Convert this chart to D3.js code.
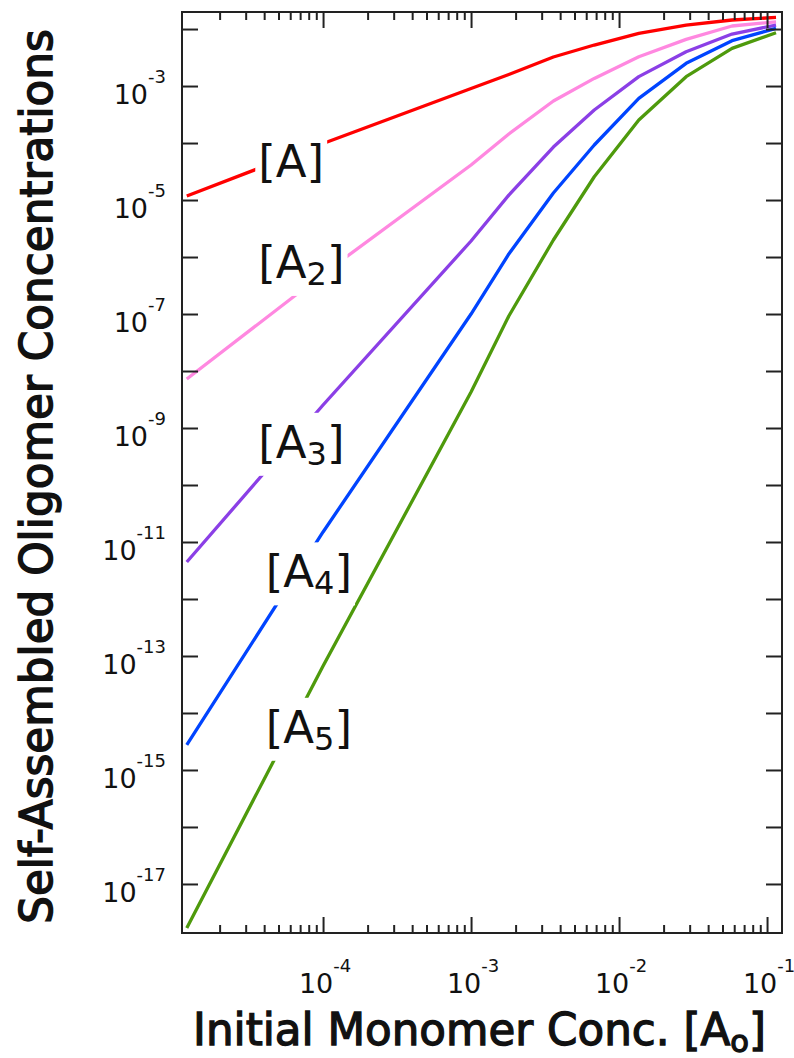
<!DOCTYPE html>
<html><head><meta charset="utf-8">
<script src="https://cdn.jsdelivr.net/npm/d3@7/dist/d3.min.js"></script>
<style>body{margin:0;background:#fff}svg{display:block}</style>
</head><body>
<svg id="c" width="794" height="1058"></svg>
<script>
// ---- data ----
const conc = [1.2e-5, 1e-4, 1e-3, 1.8e-3, 3.6e-3, 6.8e-3, 1.36e-2, 2.84e-2, 5.8e-2, 0.115];
const A1 = [1.175e-5, 9.8e-5, 9.04e-4, 1.59e-3, 3.23e-3, 5.24e-3, 8.41e-3, 1.175e-2, 1.44e-2, 1.60e-2];
const A2 = [7.24e-9, 5.03e-7, 4.11e-5, 1.44e-4, 5.46e-4, 1.36e-3, 3.27e-3, 6.59e-3, 1.13e-2, 1.34e-2];
const A3 = [4.46e-12, 2.53e-9, 1.91e-6, 1.22e-5, 8.51e-5, 3.79e-4, 1.46e-3, 4.0e-3, 8.16e-3, 1.175e-2];
const A4 = [2.75e-15, 1.50e-11, 1.0e-7, 1.13e-6, 1.33e-5, 9.23e-5, 6.08e-4, 2.50e-3, 6.24e-3, 1.03e-2];
const A5 = [1.69e-18, 6.68e-14, 4.28e-9, 9.23e-8, 1.99e-6, 2.56e-5, 2.53e-4, 1.46e-3, 4.58e-3, 8.61e-3];
const seriesNames = ["A", "A2", "A3", "A4", "A5"];
const seriesSubs = ["", "2", "3", "4", "5"];
const xTickExps = [-4, -3, -2, -1];
const yTickExps = [-3, -5, -7, -9, -11, -13, -15, -17];
const xTitle = "Initial Monomer Conc. [A";
const xTitleSub = "o";
const yTitle = "Self-Assembled Oligomer Concentrations";

const seriesData = [A1, A2, A3, A4, A5];
const colors = ["#ff0000", "#ff88e0", "#8b3fe6", "#0044ff", "#4e9a0c"];
// label anchor points in data space (A0 , concentration)
const labelPos = [[3.65e-5, 2.5e-5], [3.65e-5, 4.3e-7], [3.65e-5, 3.0e-10], [4.1e-5, 1.6e-12], [4.1e-5, 3.0e-15]];

const svg = d3.select("#c");
const L = 182, R = 782, T = 12, B = 933;
const x = d3.scaleLog().domain([1.114e-5, 0.1262]).range([L, R]);
const y = d3.scaleLog().domain([1.38e-18, 0.0199]).range([B, T]);
const FONT = "DejaVu Sans, Verdana, sans-serif";
const axisColor = "#222";

// lines
const line = d3.line().x((d, i) => x(conc[i])).y(d => y(d));
seriesData.forEach((s, k) => {
  svg.append("path").datum(s).attr("d", line)
    .attr("fill", "none").attr("stroke", colors[k]).attr("stroke-width", 3.3)
    .attr("stroke-linejoin", "round");
});

// axes (frame + inward ticks)
const xMajor = d3.range(-5, 0).map(e => Math.pow(10, e)).filter(v => v >= x.domain()[0] && v <= x.domain()[1]);
const xMinor = [];
d3.range(-5, 0).forEach(e => { for (let m = 2; m <= 9; m++) { const v = m * Math.pow(10, e); if (v >= x.domain()[0] && v <= x.domain()[1]) xMinor.push(v); } });
const yMajor = d3.range(-18, -1).map(e => Math.pow(10, e)).filter(v => v >= y.domain()[0] && v <= y.domain()[1]);

function axisG(axisFn, scale, vals, size, transform) {
  const g = svg.append("g").attr("transform", transform)
    .call(axisFn(scale).tickValues(vals).tickSize(size).tickFormat(""));
  g.select(".domain").remove();
  g.selectAll(".tick line").attr("stroke", axisColor).attr("stroke-width", 2);
}
axisG(d3.axisTop, x, xMajor, 16, `translate(0,${B})`);
axisG(d3.axisTop, x, xMinor, 8, `translate(0,${B})`);
axisG(d3.axisBottom, x, xMajor, 16, `translate(0,${T})`);
axisG(d3.axisBottom, x, xMinor, 8, `translate(0,${T})`);
axisG(d3.axisRight, y, yMajor, 16, `translate(${L},0)`);
axisG(d3.axisLeft, y, yMajor, 16, `translate(${R},0)`);
svg.append("rect").attr("x", L).attr("y", T).attr("width", R - L).attr("height", B - T)
  .attr("fill", "none").attr("stroke", axisColor).attr("stroke-width", 2);

// tick labels
xTickExps.forEach(e => {
  const t = svg.append("text").attr("x", x(Math.pow(10, e)) + 2).attr("y", 993)
    .attr("text-anchor", "middle").attr("font-family", FONT).attr("font-size", 27).attr("fill", "#111");
  t.append("tspan").text("10");
  t.append("tspan").attr("dy", -21).attr("font-size", 18).text(String(e));
});
yTickExps.forEach(e => {
  const t = svg.append("text").attr("x", 166).attr("y", y(Math.pow(10, e)) + 18)
    .attr("text-anchor", "end").attr("font-family", FONT).attr("font-size", 27).attr("fill", "#111");
  t.append("tspan").text("10");
  t.append("tspan").attr("dy", -21).attr("font-size", 18).text(String(e));
});

// series labels with white boxes
seriesNames.forEach((n, k) => {
  const px = x(labelPos[k][0]), py = y(labelPos[k][1]);
  const g = svg.append("g");
  const bg = g.append("rect").attr("fill", "#fff");
  const t = g.append("text").attr("x", px).attr("y", py).attr("font-family", FONT)
    .attr("font-size", 45).attr("fill", "#111");
  t.append("tspan").text("[A");
  if (seriesSubs[k]) t.append("tspan").attr("dy", 7).attr("font-size", 32).text(seriesSubs[k]);
  t.append("tspan").attr("dy", seriesSubs[k] ? -7 : 0).text("]");
  const bb = t.node().getBBox();
  bg.attr("x", bb.x - 3).attr("width", bb.width + 6).attr("y", py - 45).attr("height", 63);
});

// axis titles
function fit(t, target) { const w = t.node().getComputedTextLength(); const fs = +t.attr("font-size"); t.attr("font-size", fs * target / w); }
const xt = svg.append("text").attr("x", (193 + 766) / 2).attr("y", 1045).attr("text-anchor", "middle")
  .attr("font-family", FONT).attr("font-size", 40).attr("fill", "#111")
  .attr("stroke", "#111").attr("stroke-width", 1.3);
xt.append("tspan").text(xTitle);
xt.append("tspan").attr("dy", 7).attr("font-size", "0.7em").text(xTitleSub);
xt.append("tspan").attr("dy", -7).text("]");
fit(xt, 573);
const yt = svg.append("text").attr("transform", `translate(52,${(28 + 925) / 2}) rotate(-90)`)
  .attr("text-anchor", "middle").attr("font-family", FONT)
  .attr("font-size", 40).attr("fill", "#111").attr("stroke", "#111").attr("stroke-width", 1.5).text(yTitle);
fit(yt, 895);
</script>
</body></html>
